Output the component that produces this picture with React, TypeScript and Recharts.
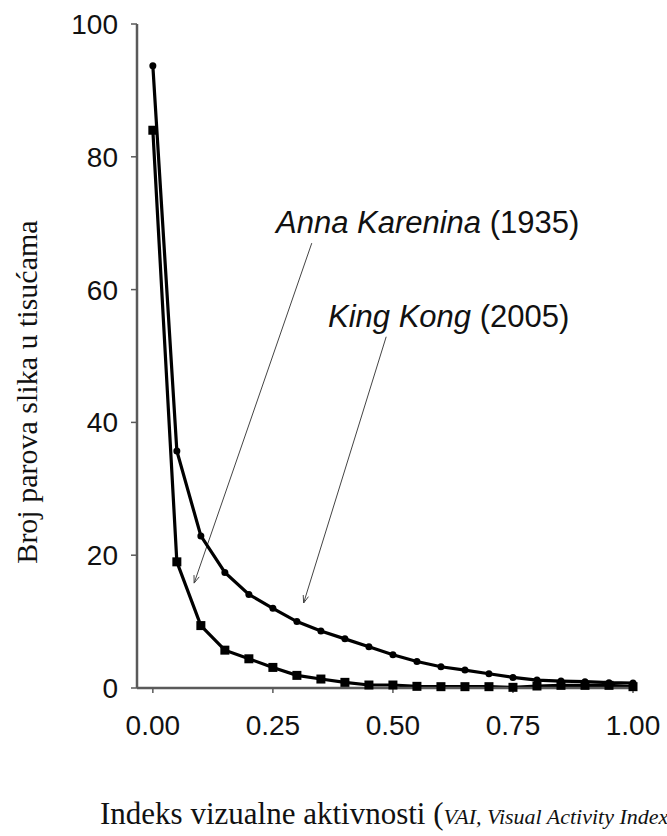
import { Line, LineChart, ReferenceLine, XAxis, YAxis } from "recharts";

const vai = [0, 0.05, 0.1, 0.15, 0.2, 0.25, 0.3, 0.35, 0.4, 0.45, 0.5, 0.55, 0.6, 0.65, 0.7, 0.75, 0.8, 0.85, 0.9, 0.95, 1.0];
const kingKong = [93.7, 35.7, 22.9, 17.4, 14.1, 12.0, 10.0, 8.6, 7.4, 6.2, 5.0, 4.0, 3.2, 2.7, 2.15, 1.6, 1.2, 1.05, 0.95, 0.8, 0.75];
const annaKarenina = [84.0, 19.0, 9.4, 5.7, 4.4, 3.1, 1.9, 1.35, 0.85, 0.45, 0.45, 0.25, 0.2, 0.2, 0.2, 0.1, 0.3, 0.4, 0.4, 0.4, 0.2];

const xTicks = [0, 0.25, 0.5, 0.75, 1];
const yTicks = [0, 20, 40, 60, 80, 100];

// arrow ends, in data units: [fromX, fromY, toX, toY]
const annaArrow = [0.331, 67.0, 0.086, 15.8];
const kongArrow = [0.486, 52.9, 0.314, 12.8];

const data = vai.map((x, i) => ({ x, kong: kingKong[i], anna: annaKarenina[i] }));

const SANS = "'Liberation Sans', Arial, sans-serif";
const SERIF = "'Liberation Serif', 'Times New Roman', serif";
const AXIS = "#5a5a5a";

function Arrow(props: any) {
  const { x1, y1, x2, y2 } = props;
  const a = Math.atan2(y2 - y1, x2 - x1);
  const len = 8;
  const spread = 0.35;
  return (
    <g stroke="#444" strokeWidth={1}>
      <line x1={x1} y1={y1} x2={x2} y2={y2} />
      <path
        d={`M${x2 - len * Math.cos(a - spread)},${y2 - len * Math.sin(a - spread)} L${x2},${y2} L${x2 - len * Math.cos(a + spread)},${y2 - len * Math.sin(a + spread)}`}
        fill="none"
      />
    </g>
  );
}

function SquareDot(props: any) {
  const { cx, cy, index } = props;
  return <rect key={`sq-${index}`} x={cx - 4.5} y={cy - 4.5} width={9} height={9} fill="#000" />;
}

export default function App() {
  return (
    <div style={{ position: "absolute", left: 0, top: 0, width: 667, height: 836, background: "#fff" }}>
      <LineChart width={667} height={836} data={data} margin={{ top: 24, right: 34, bottom: 0, left: 0 }}>
        <XAxis
          dataKey="x"
          type="number"
          domain={[-0.033, 1]}
          ticks={xTicks}
          tickFormatter={(v: number) => v.toFixed(2)}
          height={148}
          stroke={AXIS}
          axisLine={{ stroke: AXIS, strokeWidth: 2.5 }}
          tickLine={{ stroke: AXIS, strokeWidth: 1.5 }}
          tickSize={5}
          tickMargin={22}
          tick={{ fill: "#111", fontSize: 28, fontFamily: SANS }}
        />
        <YAxis
          type="number"
          domain={[0, 100]}
          ticks={yTicks}
          width={137}
          stroke={AXIS}
          axisLine={{ stroke: AXIS, strokeWidth: 2.5 }}
          tickLine={{ stroke: AXIS, strokeWidth: 1.5 }}
          tickSize={6}
          tickMargin={13}
          tick={{ fill: "#111", fontSize: 28, fontFamily: SANS }}
        />
        <ReferenceLine
          segment={[{ x: annaArrow[0], y: annaArrow[1] }, { x: annaArrow[2], y: annaArrow[3] }]}
          shape={Arrow}
          ifOverflow="visible"
        />
        <ReferenceLine
          segment={[{ x: kongArrow[0], y: kongArrow[1] }, { x: kongArrow[2], y: kongArrow[3] }]}
          shape={Arrow}
          ifOverflow="visible"
        />
        <Line
          dataKey="kong"
          stroke="#000"
          strokeWidth={3.2}
          dot={{ r: 3.5, fill: "#000", stroke: "#000", strokeWidth: 0 }}
          activeDot={false}
          isAnimationActive={false}
        />
        <Line
          dataKey="anna"
          stroke="#000"
          strokeWidth={3.2}
          dot={SquareDot}
          activeDot={false}
          isAnimationActive={false}
        />
      </LineChart>
      <svg width={667} height={836} style={{ position: "absolute", left: 0, top: 0, pointerEvents: "none" }}>
        <text x={276} y={233} fontFamily={SANS} fontSize={31} fill="#111">
          <tspan fontStyle="italic">Anna Karenina</tspan>
          <tspan> (1935)</tspan>
        </text>
        <text x={328} y={327} fontFamily={SANS} fontSize={31} fill="#111">
          <tspan fontStyle="italic">King Kong</tspan>
          <tspan> (2005)</tspan>
        </text>
        <text
          x={26}
          y={392}
          transform="rotate(-90 26 392)"
          textAnchor="middle"
          dominantBaseline="central"
          fontFamily={SERIF}
          fontSize={30}
          fill="#111"
        >
          Broj parova slika u tisućama
        </text>
        <text x={100} y={824} fontFamily={SERIF} fontSize={31} fill="#111">
          <tspan>Indeks vizualne aktivnosti (</tspan>
          <tspan fontStyle="italic" fontSize={22}>VAI, Visual Activity Index)</tspan>
        </text>
      </svg>
    </div>
  );
}
